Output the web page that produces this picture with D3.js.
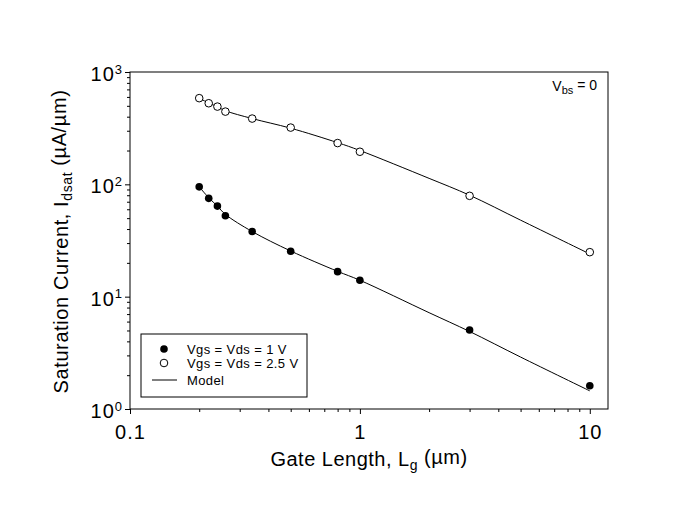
<!DOCTYPE html>
<html>
<head>
<meta charset="utf-8">
<script src="https://cdn.jsdelivr.net/npm/d3@7"></script>
<style>
  body { margin: 0; background: #fff; }
  text { font-family: "Liberation Sans", Arial, sans-serif; fill: #000; }
</style>
</head>
<body>
<script>
// measured points
var gateLength = [0.2, 0.22, 0.24, 0.26, 0.34, 0.5, 0.8, 1, 3, 10];
var idsatLow = [95, 75, 64, 52.5, 38, 25.4, 16.7, 14, 5.05, 1.61];     // Vgs = Vds = 1 V
var idsatHigh = [585, 527, 492, 444, 385, 320, 233, 195, 79, 24.9];    // Vgs = Vds = 2.5 V

// model curves
var modelLength = [0.2, 0.22, 0.24, 0.26, 0.34, 0.5, 0.8, 1, 2, 3, 5, 10];
var modelLow = [95, 76, 64, 54, 38, 25.5, 16.8, 14, 7.2, 4.9, 2.9, 1.45];
var modelHigh = [585, 530, 490, 452, 385, 316, 235, 200, 113, 80, 48, 24];

var xMajor = [0.1, 1, 10];
var xMinor = [0.2, 0.3, 0.4, 0.5, 0.6, 0.7, 0.8, 0.9, 2, 3, 4, 5, 6, 7, 8, 9];
var yMajor = [1, 10, 100, 1000];
var yMinor = [2, 3, 4, 5, 6, 7, 8, 9, 20, 30, 40, 50, 60, 70, 80, 90, 200, 300, 400, 500, 600, 700, 800, 900];

var legendLabels = ["Vgs = Vds = 1 V", "Vgs = Vds = 2.5 V", "Model"];

var margin = {top: 72, right: 73, bottom: 119, left: 130},
    width = 681 - margin.left - margin.right,
    height = 528 - margin.top - margin.bottom;

var x = d3.scaleLog().domain([0.1, 12]).range([0, width]);
var y = d3.scaleLog().domain([1, 1000]).range([height, 0]);

var svg = d3.select("body").append("svg")
    .attr("width", 681)
    .attr("height", 528)
  .append("g")
    .attr("transform", "translate(" + margin.left + "," + margin.top + ")");

// axes
svg.append("g")
    .attr("transform", "translate(0," + height + ")")
    .call(d3.axisBottom(x).tickValues(xMinor).tickSize(3).tickFormat(""))
    .call(g => g.select(".domain").remove());

svg.append("g")
    .attr("class", "x axis")
    .attr("transform", "translate(0," + height + ")")
    .call(d3.axisBottom(x).tickValues(xMajor).tickSize(5).tickPadding(11)
        .tickFormat(d => d === 0.1 ? "0.1" : d3.format("d")(d)))
    .call(g => g.select(".domain").remove())
    .selectAll("text")
    .style("font-size", "20px")
    .style("letter-spacing", "1px");

svg.append("g")
    .call(d3.axisLeft(y).tickValues(yMinor).tickSize(3).tickFormat(""))
    .call(g => g.select(".domain").remove());

var yAx = svg.append("g")
    .attr("class", "y axis")
    .call(d3.axisLeft(y).tickValues(yMajor).tickSize(5).tickPadding(3).tickFormat(""))
    .call(g => g.select(".domain").remove());

yAx.selectAll(".tick text").each(function(d) {
  var t = d3.select(this).style("font-size", "20px").attr("dy", "0.42em");
  t.append("tspan").style("letter-spacing", "1px").text("10");
  t.append("tspan").attr("dy", "-0.55em").style("font-size", "13px").text(Math.round(Math.log10(d)));
});

svg.selectAll(".tick line").attr("stroke", "#000");

// frame
svg.append("rect")
    .attr("width", width)
    .attr("height", height)
    .attr("fill", "none")
    .attr("stroke", "#000")
    .attr("stroke-width", 1);

// model lines
var line = d3.line()
    .x(d => x(d[0]))
    .y(d => y(d[1]))
    .curve(d3.curveCatmullRom);

[modelLow, modelHigh].forEach(function(vals) {
  svg.append("path")
      .datum(modelLength.map((l, i) => [l, vals[i]]))
      .attr("d", line)
      .attr("fill", "none")
      .attr("stroke", "#000")
      .attr("stroke-width", 1);
});

// points
svg.selectAll(".low")
    .data(gateLength.map((l, i) => [l, idsatLow[i]]))
  .enter().append("circle")
    .attr("class", "low")
    .attr("cx", d => x(d[0]))
    .attr("cy", d => y(d[1]))
    .attr("r", 3.8)
    .attr("fill", "#000");

svg.selectAll(".high")
    .data(gateLength.map((l, i) => [l, idsatHigh[i]]))
  .enter().append("circle")
    .attr("class", "high")
    .attr("cx", d => x(d[0]))
    .attr("cy", d => y(d[1]))
    .attr("r", 3.8)
    .attr("fill", "#fff")
    .attr("stroke", "#000")
    .attr("stroke-width", 1);

// axis titles
var xt = svg.append("text")
    .attr("x", width / 2)
    .attr("y", height + 57)
    .attr("text-anchor", "middle")
    .style("font-size", "20px")
    .style("letter-spacing", "0.5px");
xt.append("tspan").text("Gate Length, L");
xt.append("tspan").attr("dy", "0.3em").style("font-size", "14px").text("g");
xt.append("tspan").attr("dy", "-0.3em").text(" (\u00b5m)");

var yt = svg.append("text")
    .attr("transform", "translate(-62," + (height / 2 + 1) + ") rotate(-90)")
    .attr("text-anchor", "middle")
    .style("font-size", "20px")
    .style("letter-spacing", "0.6px");
yt.append("tspan").text("Saturation Current, I");
yt.append("tspan").attr("dy", "0.3em").style("font-size", "14px").text("dsat");
yt.append("tspan").attr("dy", "-0.3em").text(" (\u00b5A/\u00b5m)");

// Vbs note
var vb = svg.append("text")
    .attr("x", width - 11)
    .attr("y", 19)
    .attr("text-anchor", "end")
    .style("font-size", "14px");
vb.append("tspan").text("V");
vb.append("tspan").attr("dy", "0.3em").style("font-size", "11px").text("bs");
vb.append("tspan").attr("dy", "-0.3em").text(" = 0");

//Legend
var legend = svg.append("g")
    .attr("transform", "translate(11," + (height - 75) + ")");

legend.append("rect")
    .attr("width", 166)
    .attr("height", 63)
    .attr("fill", "#fff")
    .attr("stroke", "#000");

var rowY = [15, 29, 46];
var item = legend.selectAll(".legend")
    .data(legendLabels)
  .enter().append("g")
    .attr("class", "legend")
    .attr("transform", (d, i) => "translate(0," + rowY[i] + ")");

item.append("text")
    .attr("x", 46)
    .attr("dy", "0.35em")
    .style("font-size", "13px")
    .style("letter-spacing", "0.4px")
    .text(d => d);

item.filter((d, i) => i === 0).append("circle")
    .attr("cx", 23).attr("r", 3.8).attr("fill", "#000");
item.filter((d, i) => i === 1).append("circle")
    .attr("cx", 23).attr("r", 3.8).attr("fill", "#fff").attr("stroke", "#000");
item.filter((d, i) => i === 2).append("line")
    .attr("x1", 11).attr("x2", 36)
    .attr("stroke", "#000");
</script>
</body>
</html>
